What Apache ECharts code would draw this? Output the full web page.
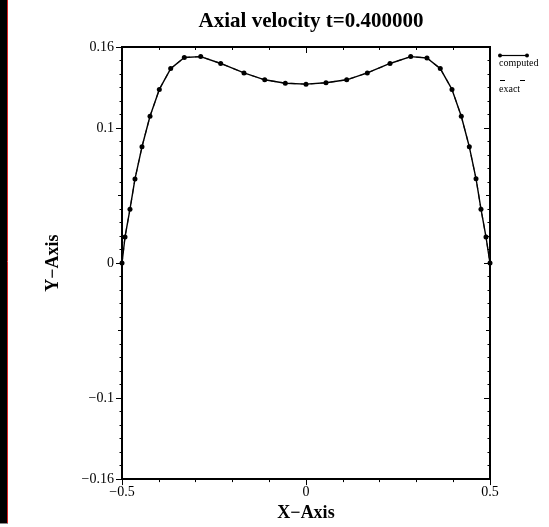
<!DOCTYPE html>
<html>
<head>
<meta charset="utf-8">
<script src="https://cdn.jsdelivr.net/npm/echarts@6/dist/echarts.min.js"></script>
<style>
html,body{margin:0;padding:0;background:#fff;}
#chart{width:549px;height:527px;}
</style>
</head>
<body>
<div id="chart"></div>
<script>
// ---- data ----
const xValues = [-0.5, -0.4918, -0.4783, -0.4647, -0.4457, -0.4239, -0.3986, -0.3677, -0.3307, -0.2861, -0.2318, -0.1685, -0.1122, -0.0562,
  0.0, 0.0543, 0.1106, 0.1666, 0.2283, 0.2845, 0.3288, 0.3649, 0.3967, 0.4220, 0.4438, 0.4620, 0.4755, 0.4891, 0.5];
const computedValues = [0.0, 0.0193, 0.0399, 0.0623, 0.0861, 0.1087, 0.1286, 0.1440, 0.1522, 0.1529, 0.1478, 0.1408, 0.1357, 0.1332,
  0.1325, 0.1335, 0.1357, 0.1408, 0.1478, 0.1529, 0.1519, 0.1440, 0.1286, 0.1087, 0.0861, 0.0625, 0.0399, 0.0193, 0.0];
const exactValues = [0.0, 0.0193, 0.0399, 0.0623, 0.0861, 0.1087, 0.1286, 0.1440, 0.1522, 0.1529, 0.1478, 0.1408, 0.1357, 0.1332,
  0.1325, 0.1335, 0.1357, 0.1408, 0.1478, 0.1529, 0.1519, 0.1440, 0.1286, 0.1087, 0.0861, 0.0625, 0.0399, 0.0193, 0.0];
const xTickLabels = [-0.5, 0, 0.5];
const yTickLabels = [-0.16, -0.1, 0, 0.1, 0.16];
const yMediumTicks = [-0.05, 0.05];
const seriesNames = ['computed', 'exact'];
const titleText = 'Axial velocity t=0.400000';

// ---- helpers ----
const FONT = '"Liberation Serif", "Times New Roman", serif';
function fmt(v) {
  const r = Math.round(v * 1000) / 1000;
  return r < 0 ? '\u2212' + String(-r) : String(r);
}
const yMinorTicks = [];
for (let k = -16; k <= 16; k++) yMinorTicks.push(k / 100);
const xMinorTicks = [];
for (let k = -5; k <= 5; k++) xMinorTicks.push(k / 10);

const computedData = xValues.map((x, i) => [x, computedValues[i]]);
const exactData = xValues.map((x, i) => [x, exactValues[i]]);

function lineBlack() { return { show: true, onZero: false, lineStyle: { color: '#000', width: 2 } }; }
function xAxisDef(pos, ticks, len, inside, extra) {
  return Object.assign({
    type: 'value', position: pos, min: -0.5, max: 0.5, gridIndex: 0,
    axisLine: lineBlack(),
    splitLine: { show: false },
    axisTick: { show: true, inside: inside, length: len, customValues: ticks, lineStyle: { color: '#000', width: 1 } },
    axisLabel: { show: false }
  }, extra || {});
}
function yAxisDef(pos, ticks, len, inside, extra) {
  return Object.assign({
    type: 'value', position: pos, min: -0.16, max: 0.16, gridIndex: 0,
    axisLine: lineBlack(),
    splitLine: { show: false },
    axisTick: { show: true, inside: inside, length: len, customValues: ticks, lineStyle: { color: '#000', width: 1 } },
    axisLabel: { show: false }
  }, extra || {});
}

const chart = echarts.init(document.getElementById('chart'), null, { renderer: 'canvas' });
chart.setOption({
  animation: false,
  backgroundColor: '#fff',
  title: {
    text: titleText, left: 306, top: 6, textAlign: 'center',
    textStyle: { fontFamily: FONT, fontSize: 21, fontWeight: 'bold', color: '#000' }
  },
  grid: { left: 122, top: 47, width: 368, height: 438, containLabel: false },
  xAxis: [
    xAxisDef('bottom', xMinorTicks, 3, false, {
      name: 'X\u2212Axis', nameLocation: 'middle', nameGap: 19,
      nameTextStyle: { fontFamily: FONT, fontSize: 18, fontWeight: 'bold', color: '#000' },
      axisLabel: { show: true, customValues: xTickLabels, formatter: fmt, margin: 6,
        fontFamily: FONT, fontSize: 14, color: '#000' }
    }),
    xAxisDef('bottom', xTickLabels, 6, false),
    xAxisDef('top', xMinorTicks, 3, true),
    xAxisDef('top', xTickLabels, 6, true)
  ],
  yAxis: [
    yAxisDef('left', yMinorTicks, 2.5, false, {
      name: 'Y\u2212Axis', nameLocation: 'middle', nameGap: 60,
      nameTextStyle: { fontFamily: FONT, fontSize: 18, fontWeight: 'bold', color: '#000' },
      axisLabel: { show: true, customValues: yTickLabels, formatter: fmt, margin: 8,
        fontFamily: FONT, fontSize: 14, color: '#000' }
    }),
    yAxisDef('left', yTickLabels, 6, false),
    yAxisDef('left', yMediumTicks, 4, false),
    yAxisDef('right', yMinorTicks, 2.5, true),
    yAxisDef('right', yTickLabels, 6, true),
    yAxisDef('right', yMediumTicks, 4, true)
  ],
  series: [
    {
      name: seriesNames[1], type: 'line', xAxisIndex: 0, yAxisIndex: 0,
      data: exactData, showSymbol: false, symbol: 'none',
      lineStyle: { color: '#444', width: 1.2, type: [5, 5] }, z: 2
    },
    {
      name: seriesNames[0], type: 'line', xAxisIndex: 0, yAxisIndex: 0,
      data: computedData, symbol: 'circle', symbolSize: 5, showAllSymbol: true,
      itemStyle: { color: '#000' }, lineStyle: { color: '#000', width: 1.4 }, z: 3
    }
  ],
  graphic: [
    { type: 'rect', shape: { x: 0, y: 0, width: 7, height: 523 }, style: { fill: '#000' } },
    { type: 'line', shape: { x1: 7.5, y1: 0, x2: 7.5, y2: 523 }, style: { stroke: '#d22', lineWidth: 1 } },
    { type: 'line', shape: { x1: 0, y1: 523.5, x2: 8, y2: 523.5 }, style: { stroke: '#888', lineWidth: 1 } },
    // legend: computed
    { type: 'line', shape: { x1: 500, y1: 55.5, x2: 527, y2: 55.5 }, style: { stroke: '#000', lineWidth: 1.2 } },
    { type: 'circle', shape: { cx: 500, cy: 55.5, r: 2 }, style: { fill: '#000' } },
    { type: 'circle', shape: { cx: 527, cy: 55.5, r: 2 }, style: { fill: '#000' } },
    { type: 'text', x: 499, y: 63, style: { text: seriesNames[0], fontFamily: FONT, fontSize: 10, fill: '#000', verticalAlign: 'middle' } },
    // legend: exact
    { type: 'line', shape: { x1: 500, y1: 80.5, x2: 526, y2: 80.5 }, style: { stroke: '#000', lineWidth: 1, lineDash: [5, 15] } },
    { type: 'text', x: 499, y: 89, style: { text: seriesNames[1], fontFamily: FONT, fontSize: 10, fill: '#000', verticalAlign: 'middle' } }
  ]
});
</script>
</body>
</html>
